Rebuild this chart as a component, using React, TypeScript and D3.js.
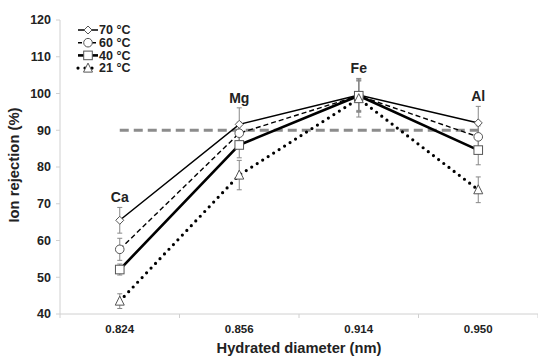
import React from 'react';
import * as d3 from 'd3';

const ions = ['Ca', 'Mg', 'Fe', 'Al'];
const diameters = ['0.824', '0.856', '0.914', '0.950'];
const yTicks = [40, 50, 60, 70, 80, 90, 100, 110, 120];

const t70 = [65.5, 91.6, 99.6, 92];
const t60 = [57.6, 89.2, 99.4, 88.2];
const t40 = [52.1, 86, 99.4, 84.6];
const t21 = [43.5, 77.8, 98.6, 73.8];

const e70 = [3.5, 4.5, 4.5, 4.5];
const e60 = [3, 3, 4, 3];
const e40 = [1.5, 3.5, 4.5, 4];
const e21 = [2, 4, 5, 3.5];

const threshold = 90;

const series = [
  { name: '70 °C', values: t70, errors: e70, marker: 'diamond', width: 1.5, dash: '' },
  { name: '60 °C', values: t60, errors: e60, marker: 'circle', width: 1.4, dash: '5,3' },
  { name: '40 °C', values: t40, errors: e40, marker: 'square', width: 2.6, dash: '' },
  { name: '21 °C', values: t21, errors: e21, marker: 'triangle', width: 3.2, dash: '0,6.5' },
];

const W = 538;
const H = 356;
const margin = { top: 20, right: 0, bottom: 42, left: 60 };

const font = '"Liberation Sans", Arial, sans-serif';

const Marker = ({ type, x, y }: { type: string; x: number; y: number }) => {
  const st = { fill: 'white', stroke: '#555', strokeWidth: 1 };
  if (type === 'diamond') {
    return <path d={`M${x},${y - 4}L${x + 4},${y}L${x},${y + 4}L${x - 4},${y}Z`} {...st} />;
  }
  if (type === 'circle') return <circle cx={x} cy={y} r={4.3} {...st} />;
  if (type === 'square') return <rect x={x - 4.3} y={y - 4.3} width={8.6} height={8.6} {...st} />;
  return <path d={`M${x},${y - 5}L${x + 4.5},${y + 4}L${x - 4.5},${y + 4}Z`} {...st} />;
};

const App: React.FC = () => {
  const innerW = W - margin.left - margin.right;
  const innerH = H - margin.top - margin.bottom;

  const x = d3.scaleBand<string>().domain(diameters).range([0, innerW]);
  const y = d3.scaleLinear().domain([40, 120]).range([innerH, 0]);
  const cx = (i: number) => (x(diameters[i]) as number) + x.bandwidth() / 2;

  const line = d3
    .line<number>()
    .x((_, i) => cx(i))
    .y((d) => y(d));

  return (
    <svg width={W} height={H} style={{ position: 'absolute', left: 0, top: 0, background: 'white' }} fontFamily={font}>
      <g transform={`translate(${margin.left},${margin.top})`}>
        {/* axes */}
        <line x1={0} x2={0} y1={0} y2={innerH} stroke="#d0d0d0" strokeWidth={1} />
        <line x1={0} x2={innerW} y1={innerH} y2={innerH} stroke="#d0d0d0" strokeWidth={1} />
        {yTicks.map((t) => (
          <g key={t} transform={`translate(0,${y(t)})`}>
            <line x1={-4} x2={0} stroke="#d0d0d0" />
            <text x={-9} dy="0.35em" textAnchor="end" fontSize={12.5} fontWeight="bold" fill="#222">
              {t}
            </text>
          </g>
        ))}
        {[0, 1, 2, 3, 4].map((i) => (
          <line key={i} x1={i * x.step()} x2={i * x.step()} y1={innerH} y2={innerH + 4} stroke="#d0d0d0" />
        ))}
        {diameters.map((d) => (
          <text key={d} x={(x(d) as number) + x.bandwidth() / 2} y={innerH + 19} textAnchor="middle" fontSize={11.5} fontWeight="bold" fill="#222">
            {d}
          </text>
        ))}
        <text x={innerW / 2} y={innerH + 39} textAnchor="middle" fontSize={14.7} fontWeight="bold" fill="#222">
          Hydrated diameter (nm)
        </text>
        <text transform={`translate(${-41},${innerH / 2 - 2}) rotate(-90)`} textAnchor="middle" fontSize={14.8} fontWeight="bold" fill="#222">
          Ion rejection (%)
        </text>

        {/* 90% reference */}
        <line x1={cx(0)} x2={cx(3)} y1={y(threshold)} y2={y(threshold)} stroke="#8c8c8c" strokeWidth={3} strokeDasharray="9,5" />

        {/* error bars */}
        {series.map((s) =>
          s.values.map((v, i) => (
            <g key={s.name + i} stroke="#888" strokeWidth={1}>
              <line x1={cx(i)} x2={cx(i)} y1={y(v + s.errors[i])} y2={y(v - s.errors[i])} />
              <line x1={cx(i) - 2.5} x2={cx(i) + 2.5} y1={y(v + s.errors[i])} y2={y(v + s.errors[i])} />
              <line x1={cx(i) - 2.5} x2={cx(i) + 2.5} y1={y(v - s.errors[i])} y2={y(v - s.errors[i])} />
            </g>
          ))
        )}

        {/* lines */}
        {series.map((s) => (
          <path
            key={s.name}
            d={line(s.values) || ''}
            fill="none"
            stroke="#000"
            strokeWidth={s.width}
            strokeDasharray={s.dash || undefined}
            strokeLinecap={s.marker === 'triangle' ? 'round' : 'butt'}
          />
        ))}

        {/* markers */}
        {series.map((s) => s.values.map((v, i) => <Marker key={s.name + i} type={s.marker} x={cx(i)} y={y(v)} />))}

        {/* ion labels */}
        {ions.map((ion, i) => {
          const top = d3.max(series, (s) => s.values[i] + s.errors[i]) as number;
          return (
            <text key={ion} x={cx(i)} y={y(top) - 5} textAnchor="middle" fontSize={14} fontWeight="bold" fill="#222">
              {ion}
            </text>
          );
        })}

        {/* legend */}
        <g transform="translate(18,10)">
          {series.map((s, i) => (
            <g key={s.name} transform={`translate(0,${i * 12.7})`}>
              <line
                x1={0}
                x2={20}
                y1={0}
                y2={0}
                stroke="#000"
                strokeWidth={s.width}
                strokeDasharray={s.dash ? (s.marker === 'triangle' ? '0,7' : '4,3') : undefined}
                strokeLinecap={s.marker === 'triangle' ? 'round' : 'butt'}
              />
              <Marker type={s.marker} x={10} y={0} />
              <text x={21} dy="0.35em" fontSize={12.5} fontWeight="bold" fill="#222">
                {s.name}
              </text>
            </g>
          ))}
        </g>
      </g>
    </svg>
  );
};

export default App;
